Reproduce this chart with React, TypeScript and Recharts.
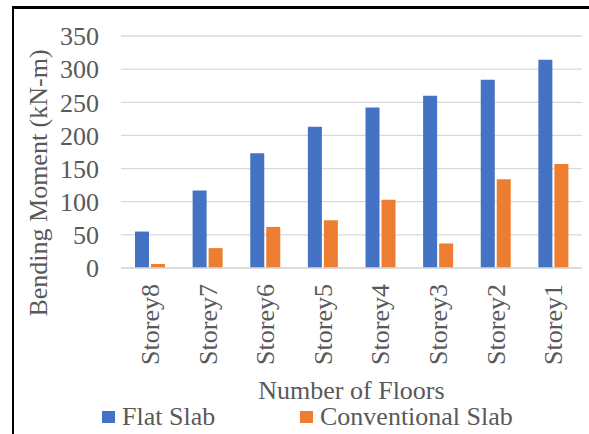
import React from 'react';
import { BarChart, Bar, XAxis, YAxis, CartesianGrid, Legend } from 'recharts';

const storeys = ['Storey8', 'Storey7', 'Storey6', 'Storey5', 'Storey4', 'Storey3', 'Storey2', 'Storey1'];
const flatSlab = [55, 117, 173, 213, 242, 260, 284, 314];
const conventionalSlab = [6, 30, 62, 72, 103, 37, 134, 157];
const yTicks = [0, 50, 100, 150, 200, 250, 300, 350];

const FONT = "'Liberation Serif', 'Times New Roman', serif";
const TEXT = '#595959';
const BLUE = '#4472C4';
const ORANGE = '#ED7D31';

const data = storeys.map((name, i) => ({
  name,
  flat: flatSlab[i],
  conventional: conventionalSlab[i],
}));

// storey names run bottom-to-top under each group
const StoreyTick = (props: any) => {
  const { x, y, payload } = props;
  return (
    <g transform={`translate(${x},${y + 8}) rotate(-90)`}>
      <text textAnchor="end" dy="0.35em" fill={TEXT} fontFamily={FONT} fontSize={26}>
        {payload.value}
      </text>
    </g>
  );
};

const AxisTitle = (props: any) => {
  const { viewBox } = props;
  const cx = viewBox.x + 38;
  const cy = viewBox.y + viewBox.height / 2 + 31;
  return (
    <text
      transform={`translate(${cx},${cy}) rotate(-90)`}
      textAnchor="middle"
      dy="0.35em"
      fill={TEXT}
      fontFamily={FONT}
      fontSize={26}
    >
      Bending Moment (kN-m)
    </text>
  );
};

const LegendBox = () => (
  <div style={{ position: 'relative', height: 30, fontFamily: FONT, fontSize: 26, color: TEXT, lineHeight: '26px' }}>
    <div style={{ position: 'absolute', left: 102, top: 0, display: 'flex', alignItems: 'center', height: 26 }}>
      <span style={{ width: 13, height: 12, background: BLUE, marginRight: 7 }} />
      <span style={{ fontFamily: FONT }}>Flat Slab</span>
    </div>
    <div style={{ position: 'absolute', left: 300, top: 0, display: 'flex', alignItems: 'center', height: 26 }}>
      <span style={{ width: 13, height: 12, background: ORANGE, marginRight: 7 }} />
      <span style={{ fontFamily: FONT }}>Conventional Slab</span>
    </div>
  </div>
);

export default function App() {
  return (
    <div style={{ position: 'absolute', left: 0, top: 0, width: 589, height: 434, background: '#fff', overflow: 'hidden' }}>
      <div
        style={{
          position: 'absolute',
          left: 12,
          top: 6,
          width: 600,
          height: 440,
          borderLeft: '2px solid #000',
          borderTop: '3px solid #000',
        }}
      />
      <BarChart
        width={589}
        height={434}
        data={data}
        margin={{ top: 36, right: 7, left: 0, bottom: 0 }}
        barCategoryGap="25%"
        barGap={2}
        style={{ position: 'absolute', left: 0, top: 0 }}
      >
        <CartesianGrid vertical={false} stroke="#d9d9d9" strokeWidth={1.3} />
        <XAxis
          dataKey="name"
          height={136}
          tickLine={false}
          axisLine={{ stroke: '#d9d9d9', strokeWidth: 1.3 }}
          tick={<StoreyTick />}
          interval={0}
          label={{ value: 'Number of Floors', position: 'insideBottom', offset: 5, fill: TEXT, fontFamily: FONT, fontSize: 26 }}
        />
        <YAxis
          width={121}
          domain={[0, 350]}
          ticks={yTicks}
          interval={0}
          axisLine={false}
          tickLine={false}
          tickSize={0}
          tickMargin={22}
          tick={{ fill: TEXT, fontFamily: FONT, fontSize: 26 }}
          label={<AxisTitle />}
        />
        <Legend verticalAlign="bottom" content={<LegendBox />} wrapperStyle={{ left: 0, width: 589 }} />
        <Bar dataKey="flat" name="Flat Slab" fill={BLUE} barSize={14} isAnimationActive={false} />
        <Bar dataKey="conventional" name="Conventional Slab" fill={ORANGE} barSize={14} isAnimationActive={false} />
      </BarChart>
    </div>
  );
}
